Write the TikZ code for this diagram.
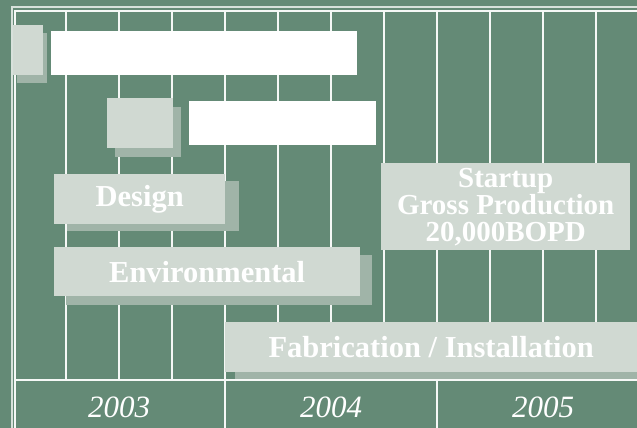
\documentclass[tikz,border=0pt]{standalone}
\usepackage{fontspec}
\setmainfont{Liberation Serif}
\definecolor{bg}{RGB}{100,138,118}
\definecolor{barc}{RGB}{208,217,210}
\definecolor{shad}{RGB}{160,180,168}
\definecolor{gridc}{RGB}{245,248,246}
\definecolor{outerc}{RGB}{215,225,219}
\tikzset{
  gridline/.style={draw=gridc, line width=2pt},
  yearline/.style={draw=gridc, line width=2.6pt},
  outerline/.style={draw=outerc, line width=1.8pt},
  shadowbox/.style={fill=shad, draw=none},
  bar/.style={fill=barc, draw=none, inner sep=0pt, anchor=north west, text=white,
    font=\fontsize{30.5}{30}\selectfont\bfseries, align=center},
  blank/.style={fill=white, draw=none, inner sep=0pt, anchor=north west},
  yearlabel/.style={text=white, anchor=base, inner sep=0pt,
    font=\fontsize{31}{31}\selectfont\itshape}
}
\begin{document}
\begin{tikzpicture}[x=1pt,y=-1pt]
\fill[bg] (0,0) rectangle (637,428);
\useasboundingbox (0,0) rectangle (637,428);
% frame
\coordinate (o1) at (12,428); \coordinate (o2) at (12,7); \coordinate (o3) at (637,7);
\draw[outerline] (o1) -- (o2) -- (o3);
\coordinate (i1) at (15,428); \coordinate (i2) at (15,11); \coordinate (i3) at (637,11);
\draw[gridline] (i1) -- (i2) -- (i3);
% quarter lines
\foreach \x in {66,119,172,278,331,384,490,543,596}{
  \draw[gridline] (\x,11) -- (\x,380);
}
\foreach \x in {225,437}{
  \draw[yearline] (\x,11) -- (\x,428);
}
\coordinate (h1) at (15,380); \coordinate (h2) at (637,380);
\draw[yearline] (h1) -- (h2);
% shadows
\fill[shadowbox] (17,33) rectangle (47,83);
\fill[shadowbox] (115,107) rectangle (181,157);
\fill[shadowbox] (67,181) rectangle (239,231);
\fill[shadowbox] (66,255) rectangle (372,305);
\fill[shadowbox] (235,330) rectangle (637,379);
% bars
\node[bar, minimum width=30pt, minimum height=50pt] (sq1) at (13,25) {};
\node[blank, minimum width=306pt, minimum height=44pt] (wh1) at (51,31) {};
\node[bar, minimum width=66pt, minimum height=50pt] (sq2) at (107,98) {};
\node[blank, minimum width=187pt, minimum height=44pt] (wh2) at (189,101) {};
\node[bar, minimum width=171pt, minimum height=50pt] (design) at (54,174) {Design};
\node[bar, minimum width=306pt, minimum height=49pt] (env) at (54,247) {Environmental};
\node[bar, minimum width=249pt, minimum height=87pt,
  font=\fontsize{29}{27}\selectfont\bfseries] (startup) at (381,163)
  {Startup\\Gross Production\\20,000BOPD};
\node[bar, minimum width=412pt, minimum height=50pt] (fab) at (225,322) {Fabrication / Installation};
% years
\node[yearlabel] (y2003) at (119,417) {2003};
\node[yearlabel] (y2004) at (331,417) {2004};
\node[yearlabel] (y2005) at (543,417) {2005};
\end{tikzpicture}
\end{document}
